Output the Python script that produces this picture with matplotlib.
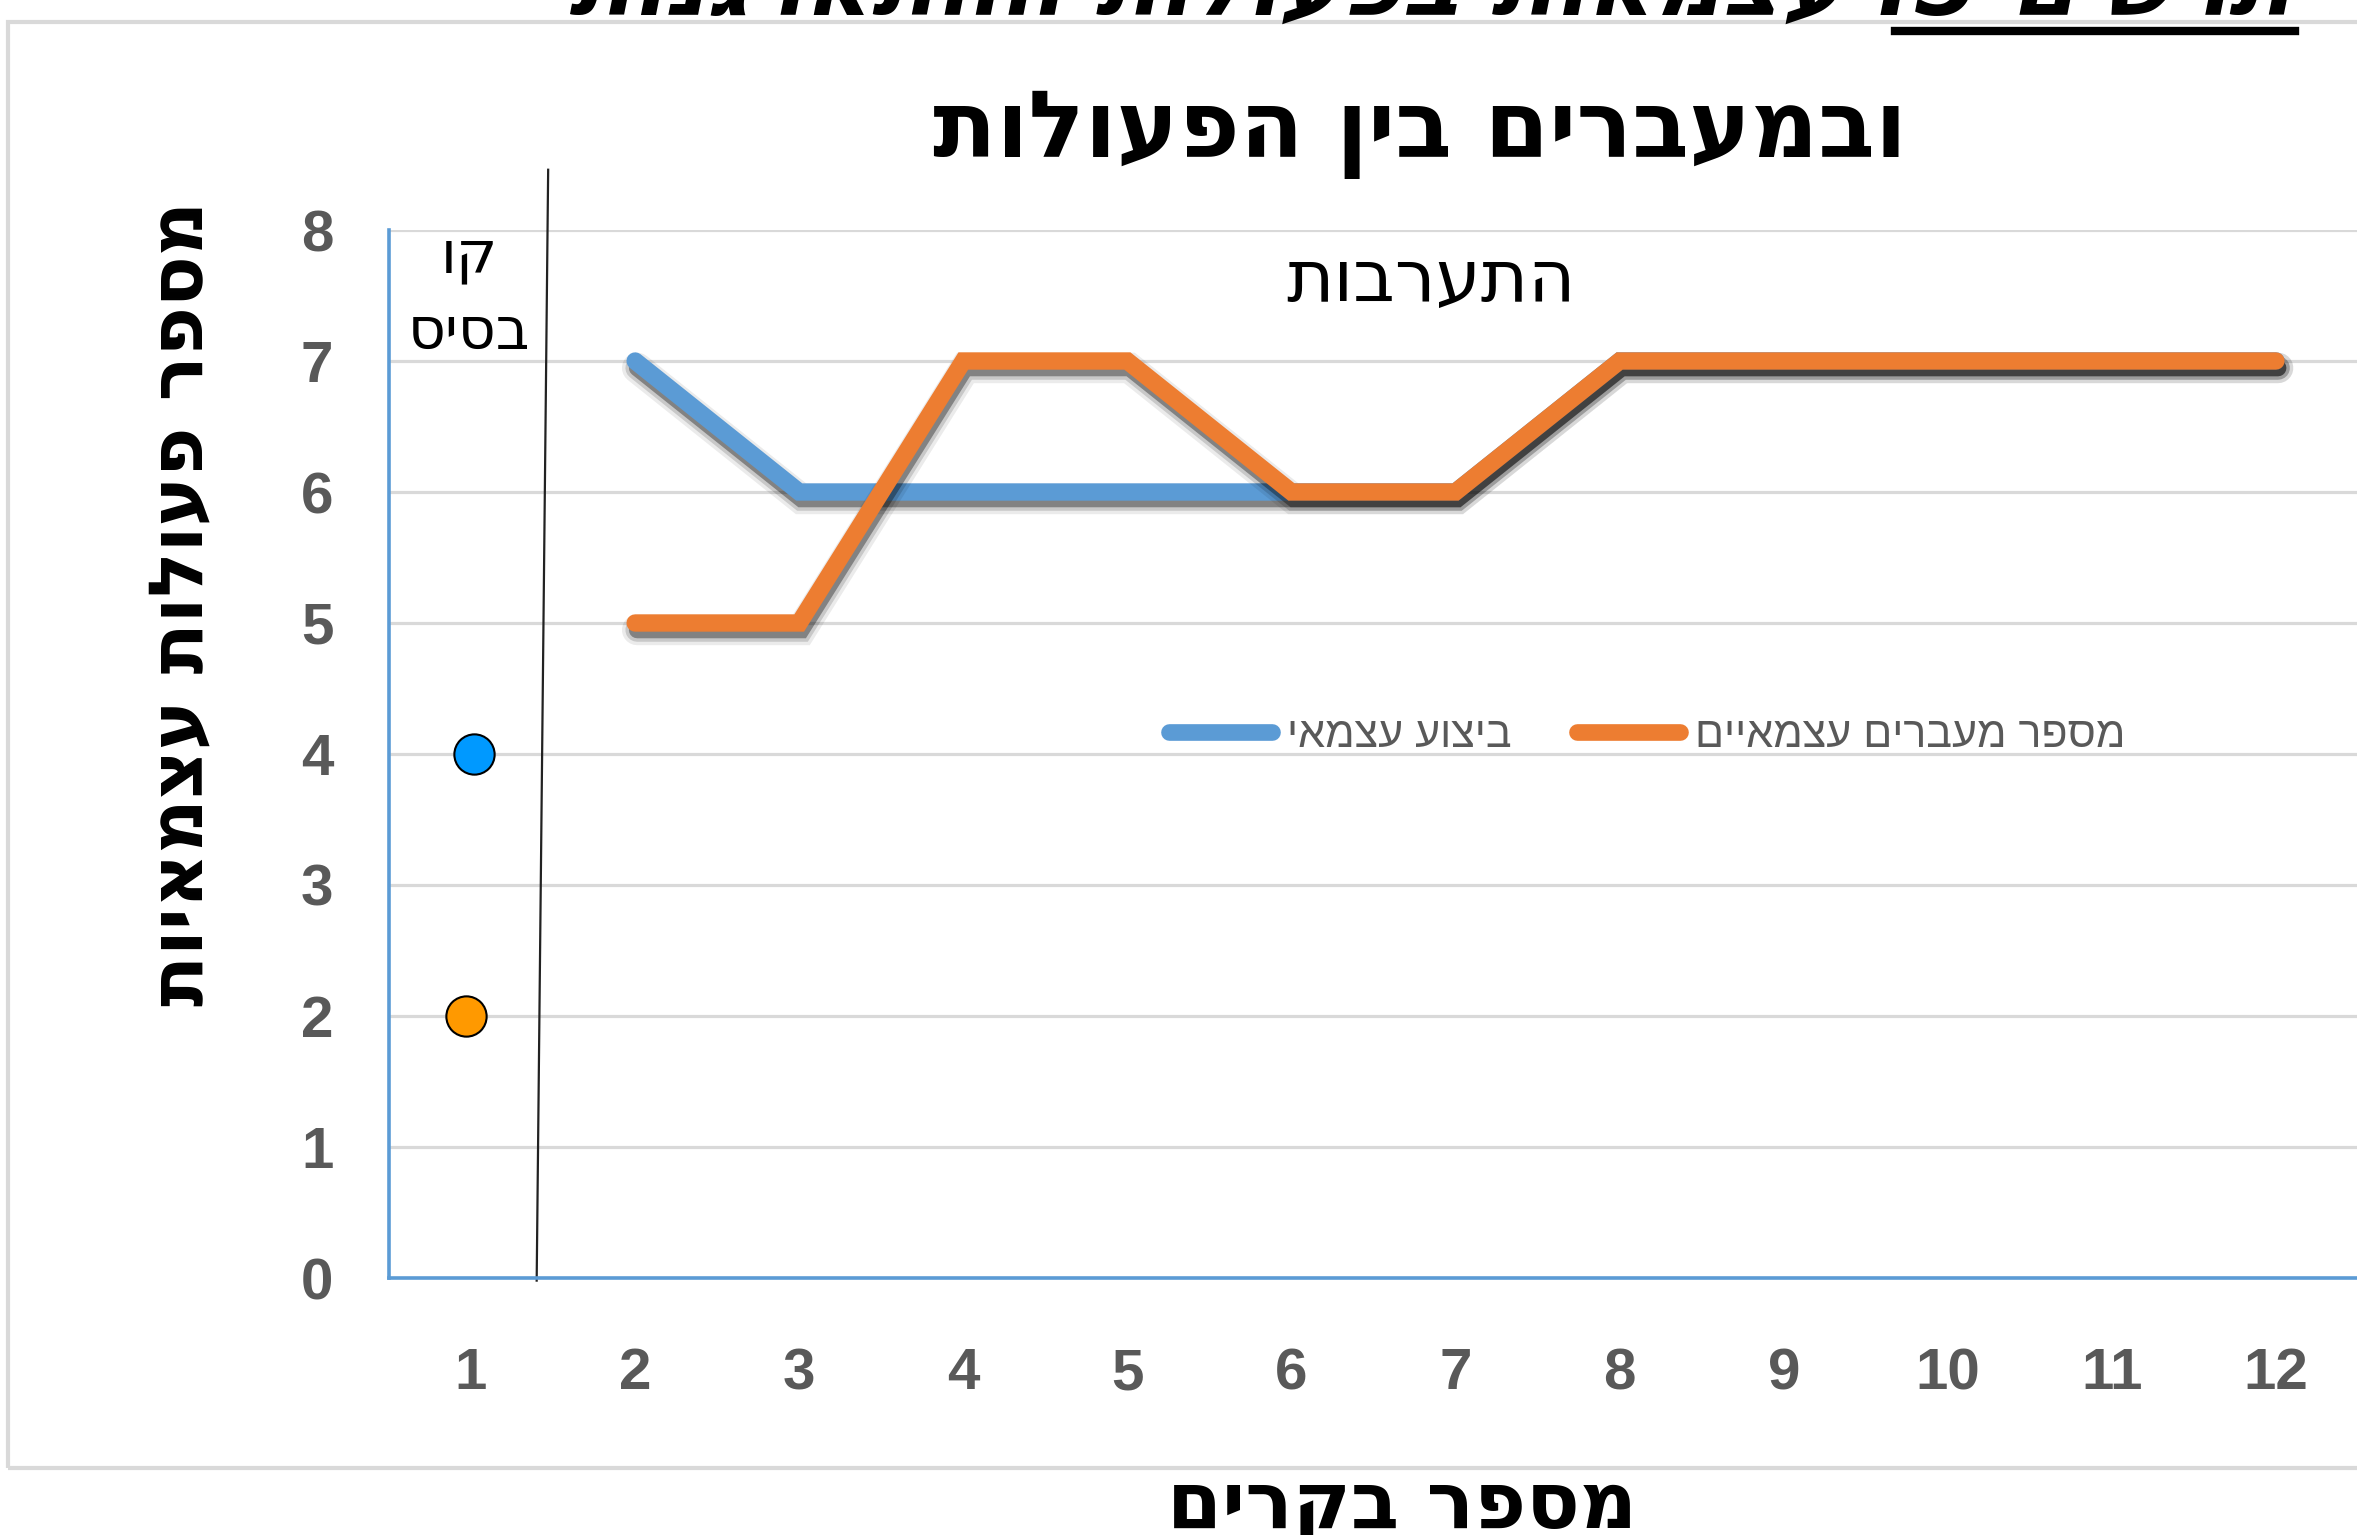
import matplotlib
matplotlib.use("Agg")
import matplotlib.pyplot as plt
import matplotlib.patheffects as pe
from matplotlib.lines import Line2D
from matplotlib.patches import Rectangle
from matplotlib import font_manager

# ---------------- data ----------------
cases = [1, 2, 3, 4, 5, 6, 7, 8, 9, 10, 11, 12]
intervention_cases = [2, 3, 4, 5, 6, 7, 8, 9, 10, 11, 12]
independent_exec = [7, 6, 6, 6, 6, 6, 7, 7, 7, 7, 7]        # ביצוע עצמאי
independent_trans = [5, 5, 7, 7, 6, 6, 7, 7, 7, 7, 7]       # מספר מעברים עצמאיים
baseline_case = 1
baseline_exec = 4
baseline_trans = 2
y_ticks = [0, 1, 2, 3, 4, 5, 6, 7, 8]

title_top = "תרשים 5: עצמאות בפעולות ההתארגנות"
title_main = "ובמעברים בין הפעולות"
ylabel = "מספר פעולות עצמאיות"
xlabel = "מספר בקרים"
label_exec = "ביצוע עצמאי"
label_trans = "מספר מעברים עצמאיים"
phase_base = ["קו", "בסיס"]
phase_int = "התערבות"


def vis(s):
    """Visual (LTR) order for a pure-Hebrew string."""
    return s[::-1]


names = {f.name for f in font_manager.fontManager.ttflist}
num_font = "Liberation Sans Narrow" if "Liberation Sans Narrow" in names else "Liberation Sans"
heb_font = ["DejaVu Sans"]
leg_font = ["Liberation Sans", "DejaVu Sans"]

W, H = 2357, 1535
fig = plt.figure(figsize=(W / 100, H / 100), dpi=100)
fig.patch.set_facecolor("white")

# outer chart border
fig.patches.append(Rectangle((8 / W, 1 - 1468 / H), 1.2, (1468 - 22) / H,
                             transform=fig.transFigure, fill=False,
                             edgecolor="#d9d9d9", linewidth=3, zorder=0))

ax_left = 389 / W
ax_bottom = 1 - 1278 / H
ax_h = (1278 - 230) / H
ax_w = (2358 - 389) / W
ax = fig.add_axes([ax_left, ax_bottom, ax_w, ax_h])
ax.set_facecolor("none")
ax.set_xlim(0.5, 12.5)
ax.set_ylim(0, 8)

blue = "#5B9BD5"
orange = "#ED7D31"

for sp in ["top", "right"]:
    ax.spines[sp].set_visible(False)
for sp in ["left", "bottom"]:
    ax.spines[sp].set_color(blue)
    ax.spines[sp].set_linewidth(2.6)
    ax.spines[sp].set_zorder(3)

ax.set_yticks(y_ticks)
ax.set_xticks(cases)
ax.set_yticklabels([str(v) for v in y_ticks])
ax.set_xticklabels([str(c) for c in cases])
ax.tick_params(axis="both", length=0, colors="#595959")
ax.tick_params(axis="y", pad=40)
ax.tick_params(axis="x", pad=50)
for lab in ax.get_xticklabels() + ax.get_yticklabels():
    lab.set_fontfamily(num_font)
    lab.set_fontweight("bold")
    lab.set_fontsize(42)
    lab.set_color("#595959")

ax.yaxis.grid(True, color="#d9d9d9", linewidth=2.3, zorder=0)
ax.set_axisbelow(True)

shadow = [pe.SimpleLineShadow(offset=(1.5, -5), shadow_color="black", alpha=0.08, linewidth=22),
          pe.SimpleLineShadow(offset=(1.5, -5), shadow_color="black", alpha=0.15, linewidth=17),
          pe.SimpleLineShadow(offset=(1.5, -5), shadow_color="black", alpha=0.35, linewidth=12),
          pe.Normal()]
ax.plot(intervention_cases, independent_exec, color=blue, linewidth=12.5,
        solid_capstyle="round", solid_joinstyle="miter", path_effects=shadow, zorder=4)
ax.plot(intervention_cases, independent_trans, color=orange, linewidth=12.5,
        solid_capstyle="round", solid_joinstyle="miter", path_effects=shadow, zorder=5)

ax.plot([baseline_case + 0.015], [baseline_exec], "o", markersize=29,
        markerfacecolor="#0099FF", markeredgecolor="black", markeredgewidth=1.5, zorder=6)
ax.plot([baseline_case - 0.03], [baseline_trans], "o", markersize=29,
        markerfacecolor="#FF9900", markeredgecolor="black", markeredgewidth=1.5, zorder=6)

# phase-change line
ax.plot([1.47, 1.40], [8.46, -0.02], color="#222222", linewidth=1.6,
        clip_on=False, zorder=3)

ax.text(0.99, 7.80, vis(phase_base[0]), ha="center", va="center",
        fontsize=42, family=heb_font, color="black")
ax.text(0.99, 7.22, vis(phase_base[1]), ha="center", va="center",
        fontsize=42, family=heb_font, color="black")
ax.text(6.85, 7.61, vis(phase_int), ha="center", va="center",
        fontsize=52, family=heb_font, color="black")

# legend
h_exec = Line2D([], [], color=blue, linewidth=12, solid_capstyle="round")
h_trans = Line2D([], [], color=orange, linewidth=12, solid_capstyle="round")
leg = ax.legend([h_exec, h_trans], [vis(label_exec), vis(label_trans)],
                loc="center", bbox_to_anchor=(0.639, 0.517), ncol=2,
                frameon=False, handlelength=2.4, handletextpad=0.35,
                columnspacing=1.5, prop={"family": leg_font, "size": 31})
for t in leg.get_texts():
    t.set_color("#595959")

# titles and axis labels
fig.text(1431 / W, 1 - 15 / H,
         "תונגראתהה תולועפב תואמצע :5 םישרת", ha="center", va="baseline",
         fontsize=67, fontweight="bold", fontstyle="italic", family=heb_font)
fig.add_artist(Line2D([1895 / W, 2295 / W], [1 - 31 / H, 1 - 31 / H],
                      transform=fig.transFigure, color="black", linewidth=6))
fig.text(1420 / W, 1 - 157 / H, vis(title_main), ha="center", va="baseline",
         fontsize=67, fontweight="bold", family=heb_font)
fig.text(182 / W, 1 - 603 / H, vis(ylabel), ha="center", va="center", rotation=90,
         fontsize=54, fontweight="bold", family=heb_font)
fig.text(1402 / W, 1 - 1528 / H, vis(xlabel), ha="center", va="baseline",
         fontsize=57, fontweight="bold", family=heb_font)

fig.savefig("out.png", dpi=100, facecolor="white")
